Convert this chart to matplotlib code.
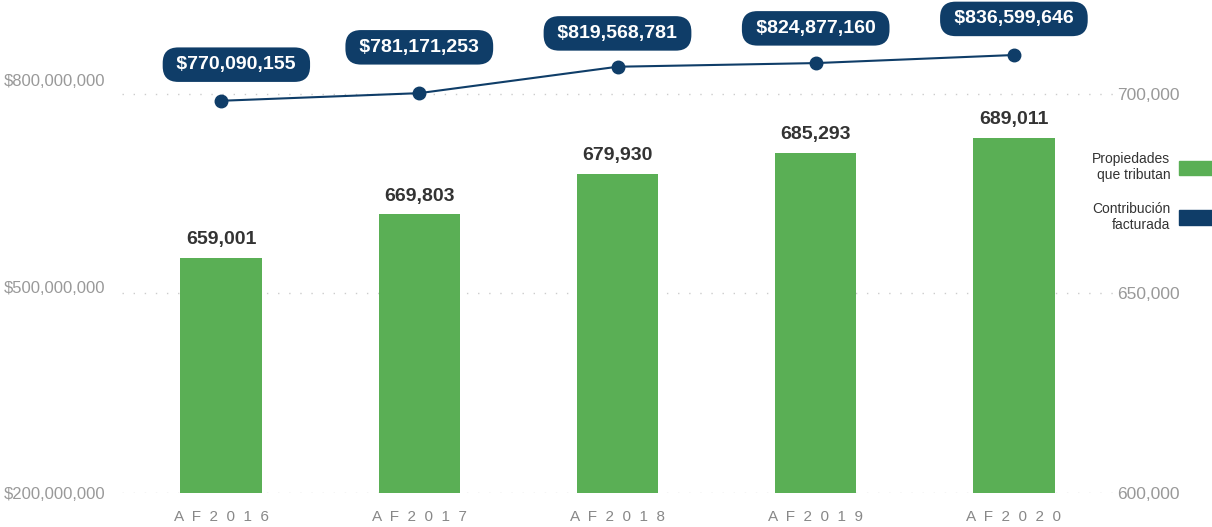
import matplotlib.pyplot as plt
from matplotlib.patches import Patch

plt.rcParams['font.family'] = ['Liberation Sans', 'DejaVu Sans']

# Data
years = ["A  F  2  0  1  6", "A  F  2  0  1  7", "A  F  2  0  1  8",
         "A  F  2  0  1  9", "A  F  2  0  2  0"]
propiedades = [659001, 669803, 679930, 685293, 689011]
contribucion = [770090155, 781171253, 819568781, 824877160, 836599646]

green = '#5aaf55'
navy = '#0f3d68'
x = list(range(len(years)))

fig = plt.figure(figsize=(12.12, 5.27), dpi=100)
ax = fig.add_axes([122 / 1212, 34 / 527, (1113 - 122) / 1212, 473 / 527])
ax2 = ax.twinx()

# Bars (right axis)
ax.bar(x, propiedades, width=0.41, color=green, zorder=2)
ax.set_ylim(600000, 718546)
ax.set_xlim(-0.5, 4.5)
ax.yaxis.tick_right()
ax.set_yticks([600000, 650000, 700000])
ax.set_yticklabels(["600,000", "650,000", "700,000"])
ax.tick_params(axis='y', length=0, pad=3, labelsize=12.5, labelcolor='#999999')
ax.set_xticks(x)
ax.set_xticklabels(years)
ax.tick_params(axis='x', length=0, pad=12, labelsize=11, labelcolor='#888888')
ax.grid(axis='y', color='#cccccc', linestyle=(0, (1, 7)), linewidth=1, zorder=0)
for s in ax.spines.values():
    s.set_visible(False)

for xi, v in zip(x, propiedades):
    ax.annotate(f"{v:,}", (xi, v), xytext=(0, 7), textcoords='offset points',
                ha='center', va='bottom', fontsize=14, fontweight='bold',
                color='#333333')

# Line (left axis)
ax2.yaxis.tick_left()
ax2.plot(x, contribucion, color=navy, linewidth=1.5, marker='o', markersize=9, zorder=3)
ax2.set_ylim(200e6, 887.5e6)
ax2.set_yticks([200e6, 500e6, 800e6])
ax2.set_yticklabels(["$200,000,000", "$500,000,000", "$800,000,000"])
ax2.tick_params(axis='y', length=0, pad=12, labelsize=12, labelcolor='#999999')
for s in ax2.spines.values():
    s.set_visible(False)

label_dx = [11, 0, 0, 0, 0]
label_dy = [26, 33, 24, 25, 26]
for xi, v, dx, dy in zip(x, contribucion, label_dx, label_dy):
    ax2.annotate(f" ${v:,} ", (xi, v), xytext=(dx, dy), textcoords='offset points',
                 ha='center', va='center', fontsize=14, fontweight='bold',
                 color='white', annotation_clip=False,
                 bbox=dict(boxstyle='round,pad=0.45,rounding_size=0.8',
                           fc=navy, ec='none'))

# Legend
handles = [Patch(color=green), Patch(color=navy)]
leg = fig.legend(handles, ["Propiedades\nque tributan", "Contribución\nfacturada"],
                 loc='center right', bbox_to_anchor=(1.0, 0.636), frameon=False,
                 markerfirst=False, fontsize=10, handlelength=2.4, handleheight=1.2,
                 handletextpad=0.6, labelspacing=1.4, borderpad=0, borderaxespad=0)
for t in leg.get_texts():
    t.set_multialignment('right')
    t.set_color('#333333')

fig.savefig("out.png", dpi=100)
